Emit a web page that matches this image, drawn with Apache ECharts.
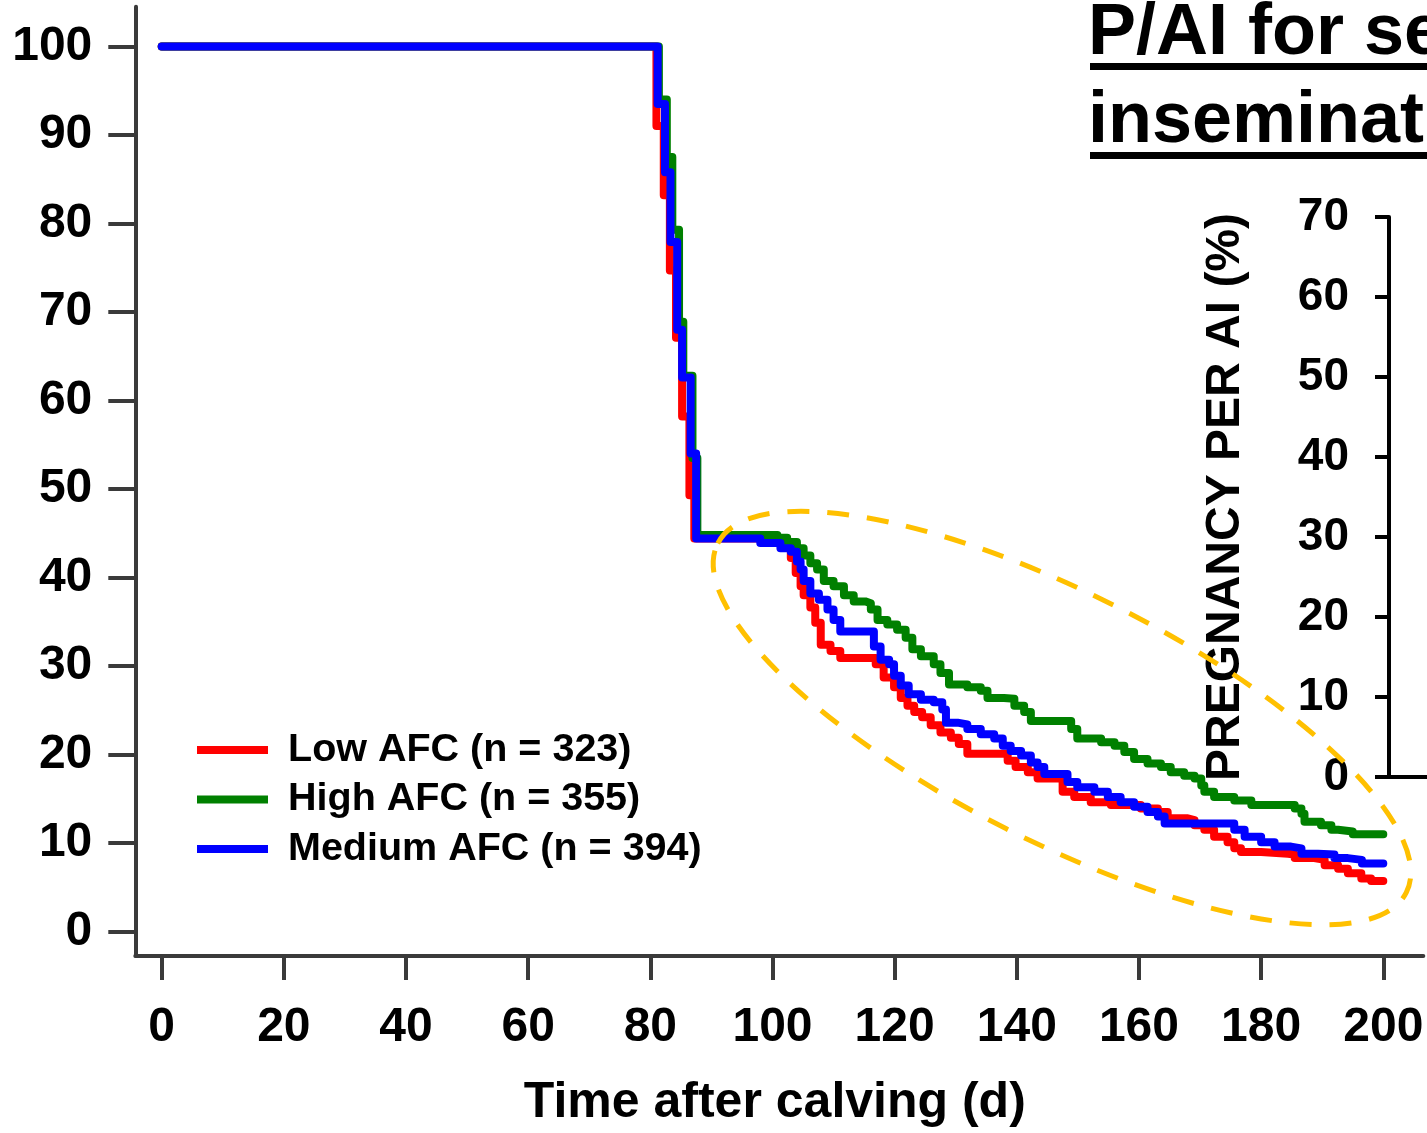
<!DOCTYPE html>
<html>
<head>
<meta charset="utf-8">
<script src="https://cdn.jsdelivr.net/npm/echarts@6/dist/echarts.min.js"></script>
<style>
html,body{margin:0;padding:0;background:#fff;}
#chart{width:1427px;height:1133px;}
</style>
</head>
<body>
<div id="chart"></div>
<script>
// ---- Data ----
const seriesNames = ['Low AFC (n = 323)', 'High AFC (n = 355)', 'Medium AFC (n = 394)'];
const seriesColors = ['#FF0000', '#008000', '#0000FF'];

const xTicks = [0, 20, 40, 60, 80, 100, 120, 140, 160, 180, 200];
const yTicks = [0, 10, 20, 30, 40, 50, 60, 70, 80, 90, 100];
const y2Ticks = [0, 10, 20, 30, 40, 50, 60, 70];

const lowAFC = [
  [0,100],[81.0,91.0],[82.2,83.2],[83.2,74.7],[84.2,67.1],[85.2,58.2],[86.4,49.3],[87.2,44.4],
  [102.4,44.0],[103.0,42.2],[103.8,40.5],[104.6,39.0],[105.1,38.0],[106.2,36.6],[107.0,34.9],
  [107.9,32.4],[109.5,31.7],[111.1,30.9],[116.9,30.2],[118.2,28.7],[119.9,27.6],[121.0,26.4],
  [122.1,25.5],[123.2,24.8],[124.5,24.2],[125.9,23.3],[127.5,22.5],[129.2,21.9],[130.5,21.2],
  [131.9,20.1],[138.5,19.3],[139.8,18.6],[141.8,18.0],[143.4,17.3],[147.5,15.8],[149.4,15.2],
  [152.1,14.6],[155.4,14.3],[160.3,13.9],[163.1,13.5],[164.7,12.8],[168.0,12.6],[169.1,12.0],
  [170.7,11.5],[172.3,10.7],[174.5,10.1],[175.6,9.4],[176.7,9.0],[180.0,8.8],[184.4,8.7],
  [185.5,8.3],[188.7,8.1],[190.4,7.5],[192.6,7.1],[194.2,6.6],[196.4,6.0],[198.0,5.7],[200,5.7]
];
const highAFC = [
  [0,100],[81.4,94.0],[82.7,87.5],[83.6,79.3],[84.7,68.9],[85.4,62.8],[86.9,53.5],[87.7,44.8],
  [100.8,44.5],[102.4,44.0],[104.0,43.3],[105.1,42.5],[106.2,41.6],[107.3,40.9],[108.4,39.6],
  [110.0,39.0],[111.7,38.0],[113.3,37.3],[115.2,37.1],[116.1,36.4],[117.2,35.2],[118.8,34.7],
  [120.4,34.1],[121.8,33.2],[122.9,31.9],[124.3,31.1],[126.4,30.2],[127.5,29.2],[128.9,27.9],
  [131.9,27.6],[134.1,27.2],[135.2,26.4],[137.9,26.3],[139.6,25.5],[141.2,24.8],[142.3,23.8],
  [148.9,22.9],[149.9,21.8],[153.8,21.4],[156.0,21.0],[157.6,20.3],[159.2,19.5],[161.4,19.0],
  [163.6,18.6],[165.2,18.0],[167.4,17.6],[169.1,17.3],[170.2,16.5],[170.7,15.8],[172.3,15.2],
  [175.6,14.8],[178.4,14.3],[185.5,13.9],[186.6,13.3],[187.1,12.4],[189.8,12.0],[191.5,11.5],
  [192.6,11.3],[195.0,11.0],[200,11.0]
];
const mediumAFC = [
  [0,100],[81.2,93.5],[82.4,85.8],[83.3,77.9],[84.4,68.0],[85.2,62.6],[86.6,54.0],[87.5,44.4],
  [98.0,43.9],[101.3,43.3],[103.0,42.9],[104.0,41.8],[104.6,40.9],[105.1,39.6],[106.2,38.2],
  [107.6,37.5],[109.0,36.4],[110.0,35.2],[111.1,33.9],[116.6,32.2],[117.7,30.7],[119.1,30.2],
  [119.9,28.9],[121.0,27.8],[122.3,26.8],[124.3,26.2],[126.4,25.9],[127.8,25.1],[128.4,23.6],
  [130.3,23.4],[131.9,22.9],[134.1,22.3],[136.3,21.8],[137.7,21.0],[139.0,20.4],[140.7,19.9],
  [142.3,19.1],[143.4,18.6],[144.5,17.8],[148.3,16.9],[149.9,16.3],[152.7,15.8],[154.9,15.2],
  [157.0,14.6],[159.2,14.1],[161.4,13.5],[163.1,13.0],[164.2,12.2],[175.6,11.5],[177.3,10.7],
  [180.0,10.1],[182.2,9.6],[184.9,9.4],[186.6,8.8],[189.3,8.7],[192.0,8.3],[194.2,8.1],
  [196.5,7.7],[200,7.7]
];

const xAxisTitle = 'Time after calving (d)';
const y2AxisTitle = 'PREGNANCY PER AI (%)';
const titleLine1 = 'P/AI for second';
const titleLine2 = 'insemination';

// ---- Chart ----
const FONT = '"Liberation Sans", Arial, Helvetica, sans-serif';
const axisGray = '#3a3a3a';
const chart = echarts.init(document.getElementById('chart'), null, {renderer: 'canvas'});

const dataSets = [lowAFC, highAFC, mediumAFC];

const option = {
  animation: false,
  backgroundColor: '#ffffff',
  grid: [
    {left: 135.3, right: 3.7, top: 6.7, bottom: 171.7, containLabel: false},
    {left: 1389, right: 0, top: 217, bottom: 356, containLabel: false}
  ],
  legend: {
    orient: 'vertical',
    left: 197, top: 730, padding: 0,
    itemWidth: 71, itemHeight: 8, itemGap: 9.5,
    icon: 'rect',
    data: seriesNames,
    textStyle: {fontFamily: FONT, fontWeight: 'bold', fontSize: 39.5, color: '#000', lineHeight: 39.5, padding: [0, 0, 0, 15]}
  },
  xAxis: [
    {
      gridIndex: 0, type: 'value', min: -4.32, max: 206.55,
      name: xAxisTitle, nameLocation: 'middle', nameGap: 122,
      nameTextStyle: {fontFamily: FONT, fontWeight: 'bold', fontSize: 50, color: '#000', padding: [0, 9, 0, 0]},
      axisLine: {show: true, onZero: false, lineStyle: {color: axisGray, width: 4}},
      axisTick: {show: true, customValues: xTicks, length: 24, lineStyle: {color: axisGray, width: 4}},
      axisLabel: {customValues: xTicks, margin: 48, fontFamily: FONT, fontWeight: 'bold', fontSize: 48, color: '#000'},
      splitLine: {show: false}
    },
    {
      gridIndex: 1, type: 'value', min: 0, max: 1,
      axisLine: {show: true, onZero: false, lineStyle: {color: '#000', width: 4}},
      axisTick: {show: false}, axisLabel: {show: false}, splitLine: {show: false}
    }
  ],
  yAxis: [
    {
      gridIndex: 0, type: 'value', min: -2.76, max: 104.49,
      axisLine: {show: true, onZero: false, lineStyle: {color: axisGray, width: 4}},
      axisTick: {show: true, customValues: yTicks, length: 27, lineStyle: {color: axisGray, width: 4}},
      axisLabel: {customValues: yTicks, margin: 43, fontFamily: FONT, fontWeight: 'bold', fontSize: 48, color: '#000'},
      splitLine: {show: false}
    },
    {
      gridIndex: 1, type: 'value', min: 0, max: 70, interval: 10,
      name: y2AxisTitle, nameLocation: 'middle', nameGap: 139,
      nameTextStyle: {fontFamily: FONT, fontWeight: 'bold', fontSize: 48, color: '#000'},
      axisLine: {show: true, onZero: false, lineStyle: {color: '#000', width: 4}},
      axisTick: {show: true, length: 14, lineStyle: {color: '#000', width: 4}},
      axisLabel: {margin: 40, fontFamily: FONT, fontWeight: 'bold', fontSize: 46, color: '#000'},
      splitLine: {show: false}
    }
  ],
  series: seriesNames.map((n, i) => ({
    name: n, type: 'line', step: 'end', xAxisIndex: 0, yAxisIndex: 0,
    data: dataSets[i], showSymbol: false, symbol: 'none',
    color: seriesColors[i],
    lineStyle: {color: seriesColors[i], width: 8, join: 'round', cap: 'round'},
    z: 2 + i
  })),
  graphic: [
    {type: 'text', x: 1088, y: 34, z: 50, style: {text: titleLine1, font: 'bold 72px ' + FONT, fill: '#000', align: 'left', verticalAlign: 'middle'}},
    {type: 'rect', z: 50, shape: {x: 1090, y: 63, width: 340, height: 7}, style: {fill: '#000'}},
    {type: 'text', x: 1088, y: 122, z: 50, style: {text: titleLine2, font: 'bold 72px ' + FONT, fill: '#000', align: 'left', verticalAlign: 'middle'}},
    {type: 'rect', z: 50, shape: {x: 1090, y: 152, width: 340, height: 7}, style: {fill: '#000'}},
    {type: 'ellipse', x: 1062, y: 718, rotation: -0.4695, z: 100,
     shape: {cx: 0, cy: 0, rx: 386, ry: 124},
     style: {fill: null, stroke: '#FFC000', lineWidth: 5, lineDash: [22, 18]}}
  ]
};
chart.setOption(option);
</script>
</body>
</html>
